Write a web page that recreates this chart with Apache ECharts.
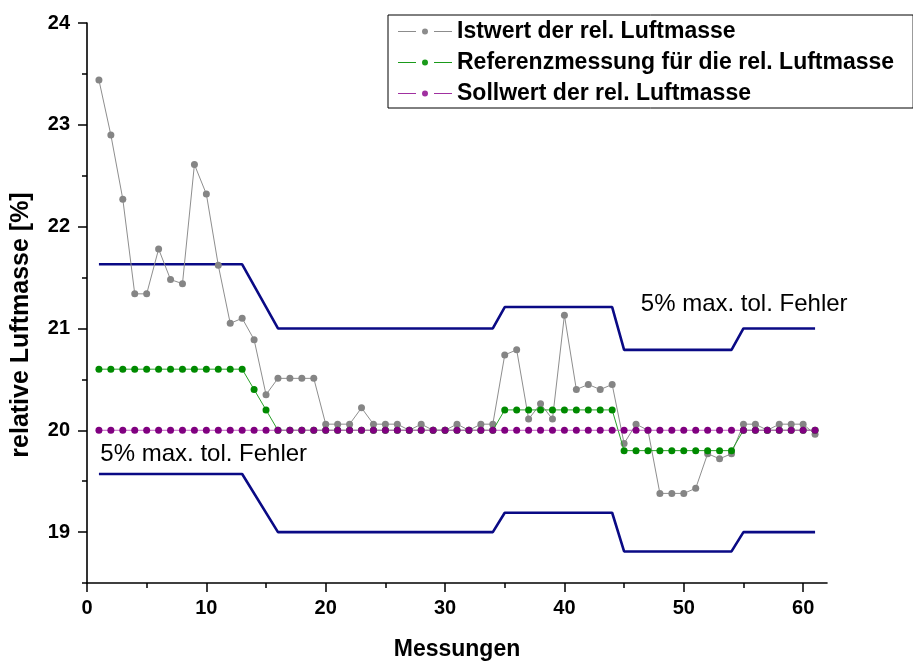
<!DOCTYPE html>
<html>
<head>
<meta charset="utf-8">
<script src="https://cdn.jsdelivr.net/npm/echarts@6/dist/echarts.min.js"></script>
<style>
html,body{margin:0;padding:0;background:#fff;}
#chart{width:913px;height:662px;}
</style>
</head>
<body>
<div id="chart"></div>
<script>
// ---- data ----
const seriesNames = ['Istwert der rel. Luftmasse', 'Referenzmessung für die rel. Luftmasse', 'Sollwert der rel. Luftmasse'];
const istwert = [23.44, 22.90, 22.27, 21.34, 21.34, 21.78, 21.48, 21.44, 22.61, 22.32,
  21.62, 21.05, 21.10, 20.89, 20.35, 20.51, 20.51, 20.51, 20.51, 20.06,
  20.06, 20.06, 20.22, 20.06, 20.06, 20.06, 20.00, 20.06, 20.00, 20.00,
  20.06, 20.00, 20.06, 20.06, 20.74, 20.79, 20.11, 20.26, 20.11, 21.13,
  20.40, 20.45, 20.40, 20.45, 19.87, 20.06, 20.00, 19.38, 19.38, 19.38,
  19.43, 19.77, 19.72, 19.77, 20.06, 20.06, 20.00, 20.06, 20.06, 20.06, 19.96];
const referenz = [20.6, 20.6, 20.6, 20.6, 20.6, 20.6, 20.6, 20.6, 20.6, 20.6,
  20.6, 20.6, 20.6, 20.4, 20.2, 20.0, 20.0, 20.0, 20.0, 20.0,
  20.0, 20.0, 20.0, 20.0, 20.0, 20.0, 20.0, 20.0, 20.0, 20.0,
  20.0, 20.0, 20.0, 20.0, 20.2, 20.2, 20.2, 20.2, 20.2, 20.2,
  20.2, 20.2, 20.2, 20.2, 19.8, 19.8, 19.8, 19.8, 19.8, 19.8,
  19.8, 19.8, 19.8, 19.8, 20.0, 20.0, 20.0, 20.0, 20.0, 20.0, 20.0];
const sollwert = [20, 20, 20, 20, 20, 20, 20, 20, 20, 20,
  20, 20, 20, 20, 20, 20, 20, 20, 20, 20,
  20, 20, 20, 20, 20, 20, 20, 20, 20, 20,
  20, 20, 20, 20, 20, 20, 20, 20, 20, 20,
  20, 20, 20, 20, 20, 20, 20, 20, 20, 20,
  20, 20, 20, 20, 20, 20, 20, 20, 20, 20, 20];
// tolerance band (5% max. tol. Fehler) breakpoints [Messung, value]
const upperBound = [[1, 21.63], [13, 21.63], [16, 21.0], [34, 21.0], [35, 21.21], [44, 21.21], [45, 20.79], [54, 20.79], [55, 21.0], [61, 21.0]];
const lowerBound = [[1, 19.57], [13, 19.57], [16, 19.0], [34, 19.0], [35, 19.19], [44, 19.19], [45, 18.81], [54, 18.81], [55, 19.0], [61, 19.0]];
const xMajorTicks = [0, 10, 20, 30, 40, 50, 60];
const xMinorTicks = [5, 15, 25, 35, 45, 55];
const yMajorTicks = [19, 20, 21, 22, 23, 24];
const annotationText = '5% max. tol. Fehler';
const xTitle = 'Messungen';
const yTitle = 'relative Luftmasse [%]';

const toXY = arr => arr.map((v, i) => [i + 1, v]);

const FONT = "'Liberation Sans', Arial, Helvetica, sans-serif";
const COLORS = {ist: '#858585', ref: '#008a00', soll: '#800080', band: '#0a0a85'};
const chart = echarts.init(document.getElementById('chart'), null, {renderer: 'canvas'});

const legendIcon = 'path://M0,3.5L18,3.5L18,4.5L0,4.5Z M36,3.5L54,3.5L54,4.5L36,4.5Z M24,4 A3,3 0 1,0 30,4 A3,3 0 1,0 24,4Z';
const legendColors = ['#8c8c8c', '#1a9a1a', '#a030a0'];

const option = {
  animation: false,
  backgroundColor: '#fff',
  grid: {left: 87, right: 86, top: 23, bottom: 79, containLabel: false, outerBoundsMode: 'none'},
  legend: {
    orient: 'vertical',
    left: 388, top: 15,
    data: seriesNames.map((n, i) => ({name: n, itemStyle: {color: legendColors[i], borderWidth: 0}})),
    icon: legendIcon,
    itemWidth: 54, itemHeight: 7,
    itemGap: 8,
    padding: [5, 19, 3, 10],
    borderColor: '#000', borderWidth: 1,
    itemStyle: {borderWidth: 0},
    textStyle: {fontFamily: FONT, fontSize: 23, fontWeight: 'bold', color: '#000'},
    selectedMode: false
  },
  xAxis: [{
    type: 'value', min: 0, max: 62,
    name: xTitle, nameLocation: 'middle', nameGap: 55,
    nameTextStyle: {fontFamily: FONT, fontSize: 23, fontWeight: 'bold', color: '#000'},
    axisLine: {show: true, onZero: false, lineStyle: {color: '#000', width: 1.6}},
    axisTick: {show: true, customValues: xMajorTicks, length: 9, lineStyle: {color: '#000', width: 1.5}},
    axisLabel: {show: true, customValues: xMajorTicks, margin: 15, fontFamily: FONT, fontSize: 20, fontWeight: 'bold', color: '#000'},
    splitLine: {show: false}
  }, {
    type: 'value', min: 0, max: 62, position: 'bottom',
    axisLine: {show: false},
    axisTick: {show: true, customValues: xMinorTicks, length: 5, lineStyle: {color: '#000', width: 1.5}},
    axisLabel: {show: false},
    splitLine: {show: false}
  }],
  yAxis: [{
    type: 'value', min: 18.5, max: 24,
    name: yTitle, nameLocation: 'middle', nameGap: 53,
    nameTextStyle: {fontFamily: FONT, fontSize: 25, fontWeight: 'bold', color: '#000', padding: [0, 44, 0, 0]},
    axisLine: {show: true, onZero: false, lineStyle: {color: '#000', width: 1.6}},
    axisTick: {show: true, customValues: yMajorTicks, length: 9, lineStyle: {color: '#000', width: 1.5}},
    axisLabel: {show: true, customValues: yMajorTicks, margin: 17, fontFamily: FONT, fontSize: 20, fontWeight: 'bold', color: '#000'},
    splitLine: {show: false}
  }, {
    type: 'value', min: 18.5, max: 24, interval: 0.5, position: 'left',
    axisLine: {show: false},
    axisTick: {show: true, length: 5, lineStyle: {color: '#000', width: 1.5}},
    axisLabel: {show: false},
    splitLine: {show: false}
  }],
  series: [
    {
      name: 'upper', type: 'line', data: upperBound, symbol: 'none', silent: true,
      lineStyle: {color: COLORS.band, width: 2.6}, z: 1
    },
    {
      name: 'lower', type: 'line', data: lowerBound, symbol: 'none', silent: true,
      lineStyle: {color: COLORS.band, width: 2.6}, z: 1
    },
    {
      name: seriesNames[0], type: 'line', data: toXY(istwert),
      symbol: 'circle', symbolSize: 7, showAllSymbol: true,
      itemStyle: {color: COLORS.ist},
      lineStyle: {color: '#8e8e8e', width: 1}, z: 2
    },
    {
      name: seriesNames[1], type: 'line', data: toXY(referenz),
      symbol: 'circle', symbolSize: 7, showAllSymbol: true,
      itemStyle: {color: COLORS.ref},
      lineStyle: {color: '#2aa02a', width: 1}, z: 3
    },
    {
      name: seriesNames[2], type: 'line', data: toXY(sollwert),
      symbol: 'circle', symbolSize: 7, showAllSymbol: true,
      itemStyle: {color: COLORS.soll},
      lineStyle: {color: '#c060c0', width: 1}, z: 4
    }
  ]
};
chart.setOption(option);

// annotations anchored to data coordinates
const pUp = chart.convertToPixel({xAxisIndex: 0, yAxisIndex: 0}, [46.4, 21.24]);
const pLo = chart.convertToPixel({xAxisIndex: 0, yAxisIndex: 0}, [1.12, 19.76]);
chart.setOption({
  graphic: [
    {type: 'text', x: pUp[0], y: pUp[1], style: {text: annotationText, font: '24px ' + FONT, fill: '#000', verticalAlign: 'middle', align: 'left'}, z: 10},
    {type: 'text', x: pLo[0], y: pLo[1], style: {text: annotationText, font: '24px ' + FONT, fill: '#000', verticalAlign: 'middle', align: 'left'}, z: 10}
  ]
});
</script>
</body>
</html>
